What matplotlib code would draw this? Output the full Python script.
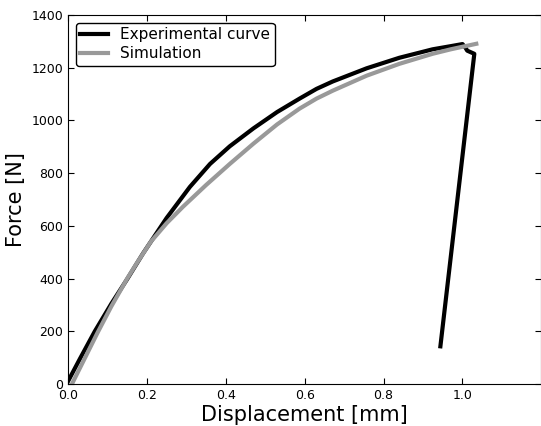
import matplotlib
matplotlib.use('Agg')
import matplotlib.pyplot as plt

# Experimental curve (displacement in mm, force in N)
disp_exp = [0.0, 0.03, 0.068, 0.11, 0.15, 0.19, 0.25, 0.309, 0.36, 0.41, 0.47,
            0.53, 0.587, 0.63, 0.671, 0.757, 0.84, 0.924, 0.97, 1.0,
            1.008, 1.012, 1.030, 0.944]
force_exp = [10, 95, 200, 305, 398, 495, 630, 748, 835, 902, 970,
             1032, 1083, 1120, 1148, 1198, 1238, 1270, 1282, 1290,
             1275, 1265, 1253, 143]

# Simulation
disp_sim = [0.01, 0.04, 0.075, 0.11, 0.15, 0.175, 0.21, 0.25, 0.291, 0.35,
            0.41, 0.47, 0.53, 0.587, 0.63, 0.671, 0.757, 0.84, 0.924, 0.97,
            1.01, 1.035]
force_sim = [0, 90, 195, 295, 400, 460, 540, 610, 672, 755,
             835, 912, 985, 1045, 1083, 1113, 1170, 1215, 1253, 1270,
             1283, 1291]

fig = plt.figure(figsize=(5.41, 4.26), dpi=100)
ax = fig.add_axes([0.1257, 0.0986, 0.875, 0.866])

ax.plot(disp_exp, force_exp, color='black', lw=3, label='Experimental curve')
ax.plot(disp_sim, force_sim, color='#999999', lw=3, label='Simulation')

ax.set_xlim(0, 1.2)
ax.set_ylim(0, 1400)
ax.set_xticks([0.0, 0.2, 0.4, 0.6, 0.8, 1.0])
ax.set_yticks(range(0, 1401, 200))
ax.tick_params(direction='in', top=True, right=True, length=4, labelsize=9)

ax.set_xlabel('Displacement [mm]', fontsize=15, labelpad=2)
ax.set_ylabel('Force [N]', fontsize=15)

leg = ax.legend(loc='upper left', fontsize=11, fancybox=True, framealpha=1,
                edgecolor='black', borderaxespad=0.5, handlelength=1.8,
                borderpad=0.3, labelspacing=0.25)
leg.get_frame().set_linewidth(1)

fig.savefig('out.png', dpi=100)
